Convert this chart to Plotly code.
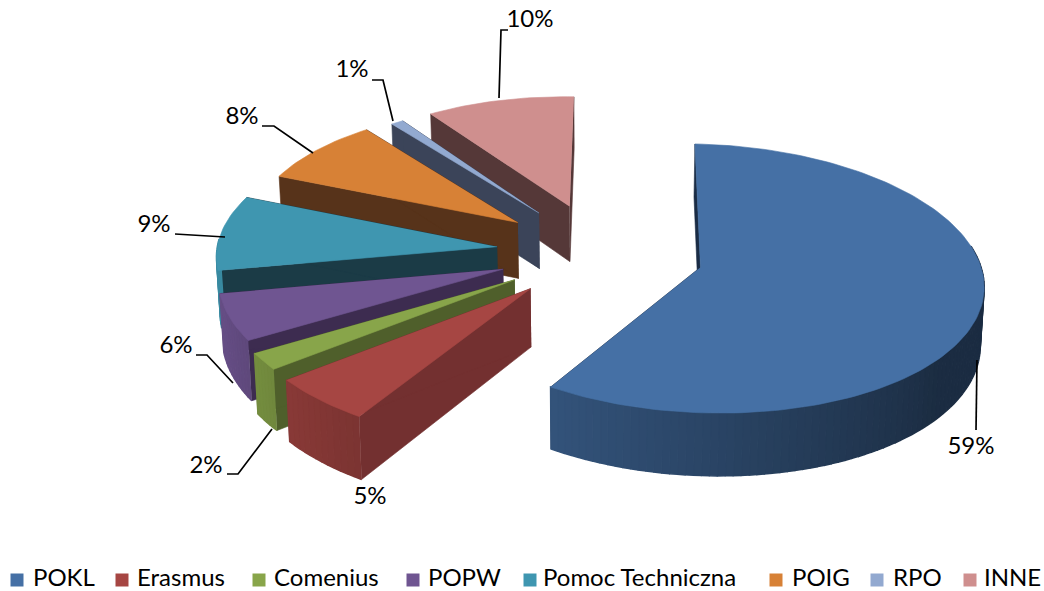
import numpy as np
import plotly.graph_objects as go

# ---- data ----
categories = ["POKL", "Erasmus", "Comenius", "POPW", "Pomoc Techniczna", "POIG", "RPO", "INNE"]
values = [58.6, 5.28, 2.0, 5.58, 9.17, 8.49, 0.86, 10.02]

# ---- styles ----
top_colors = ["#4570A5", "#A64643", "#88A54A", "#6F5591", "#3F96B0", "#D78136", "#92A9D0", "#CF8F8E"]
cut_colors = ["#1A2C45", "#733030", "#4F5F2B", "#3D2C50", "#1B3B46", "#57331A", "#3B4459", "#553838"]

# ---- view of the 3-D pie (pixel-scale projection) ----
CX, CY = 600, 252
A, B, SKEW = 285, 134.5, -10
PERSP = 0.085
EXPLODE = 0.363
DEPTH = 57
START = 2.5
rim_scale = [0.975, 1.01, 1.0, 0.985, 0.985, 0.95, 0.92, 0.93]

# label anchor positions and leader lines, in page pixels
label_x = [971, 370, 206, 176, 154, 242, 352, 530]
label_y = [448, 498, 467, 347, 226, 118, 71, 21]
leaders = [
    [(977, 360), (976, 430)],
    [],
    [(227, 474), (238, 474), (272, 429)],
    [(196, 355), (207, 355), (233, 383)],
    [(175, 234), (225, 237)],
    [(262, 126), (274, 126), (313, 153)],
    [(372, 80), (383, 80), (393, 121)],
    [(508, 30), (501, 30), (499, 98)],
]

# legend layout, in page pixels
legend_swatch_x = [17, 122, 259, 413, 530, 776, 877, 970]
legend_text_x = [33, 137, 274, 428, 543, 792, 893, 984]
LEGEND_Y = 580


def proj(X, Y, z=0.0):
    s = 1 / (1 + PERSP * Y)
    u = CX + (A * X + SKEW * Y) * s
    v = CY - B * Y * s
    if z:
        u = u + 0.01 * (CX - u) * z
        v = v + DEPTH * s * z
    return u, v


def rgb(hexcol):
    return tuple(int(hexcol[i:i + 2], 16) for i in (1, 3, 5))


def shade(hexcol, theta):
    f = float(np.clip(0.40 + (theta - 130) * (0.5 / 120), 0.40, 0.92))
    r, g, b = rgb(hexcol)
    return f"rgb({int(r * f)},{int(g * f)},{int(b * f)})"


def poly(xs, ys, color, lw=0.6):
    return go.Scatter(
        x=list(xs), y=list(ys), mode="lines", fill="toself", fillcolor=color,
        line=dict(color=color, width=lw), hoverinfo="skip", showlegend=False,
    )


fig = go.Figure()

total = sum(values)
edges = START + np.concatenate([[0], np.cumsum(values)]) * 360 / total

# painter's order: rear slices first, large front slice last
order = [7, 6, 5, 4, 3, 2, 1, 0]
for i in order:
    t0, t1 = edges[i], edges[i + 1]
    mid = np.radians((t0 + t1) / 2)
    ox, oy = EXPLODE * np.sin(mid), EXPLODE * np.cos(mid)
    r = rim_scale[i]
    n = max(6, int((t1 - t0) / 1.5))
    th = np.linspace(t0, t1, n + 1)
    rx = ox + r * np.sin(np.radians(th))
    ry = oy + r * np.cos(np.radians(th))

    # cut faces
    for tt in (t0, t1):
        ex = ox + r * np.sin(np.radians(tt))
        ey = oy + r * np.cos(np.radians(tt))
        p = [proj(ox, oy), proj(ex, ey), proj(ex, ey, 1), proj(ox, oy, 1)]
        fig.add_trace(poly([q[0] for q in p], [q[1] for q in p], cut_colors[i]))

    # outer rim, drawn as strips for the shading
    for k in range(n):
        if not (80 <= th[k] <= 272):
            continue
        p = [proj(rx[k], ry[k]), proj(rx[k + 1], ry[k + 1]),
             proj(rx[k + 1], ry[k + 1], 1), proj(rx[k], ry[k], 1)]
        fig.add_trace(poly([q[0] for q in p], [q[1] for q in p],
                           shade(top_colors[i], (th[k] + th[k + 1]) / 2), lw=1.5))

    # top surface
    u, v = proj(np.concatenate([[ox], rx]), np.concatenate([[oy], ry]))
    fig.add_trace(poly(u, v, top_colors[i]))

# leader lines
for pts in leaders:
    if pts:
        fig.add_trace(go.Scatter(
            x=[q[0] for q in pts], y=[q[1] for q in pts], mode="lines",
            line=dict(color="#000000", width=1.7), hoverinfo="skip", showlegend=False,
        ))

# percentage labels
fig.add_trace(go.Scatter(
    x=label_x, y=label_y, mode="text", text=[f"{v:.0f}%" for v in values],
    textposition="middle center", textfont=dict(family="Lato", size=24, color="#000000"),
    hoverinfo="skip", showlegend=False,
))

# legend, laid out as in the reference
fig.add_trace(go.Scatter(
    x=legend_swatch_x, y=[LEGEND_Y] * len(categories), mode="markers",
    marker=dict(symbol="square", size=13, color=top_colors),
    hovertext=categories, hoverinfo="text", showlegend=False,
))
fig.add_trace(go.Scatter(
    x=legend_text_x, y=[LEGEND_Y] * len(categories), mode="text", text=categories,
    textposition="middle right", textfont=dict(family="Lato", size=24, color="#000000"),
    hoverinfo="skip", showlegend=False,
))

fig.update_layout(
    width=1044, height=591, margin=dict(l=0, r=0, t=0, b=0),
    paper_bgcolor="#FFFFFF", plot_bgcolor="#FFFFFF",
    xaxis=dict(range=[0, 1044], visible=False, fixedrange=True),
    yaxis=dict(range=[591, 0], visible=False, fixedrange=True),
    showlegend=False,
)

fig.write_html("out.html", config=dict(displayModeBar=False),
               post_script="document.body.style.margin='0';")
